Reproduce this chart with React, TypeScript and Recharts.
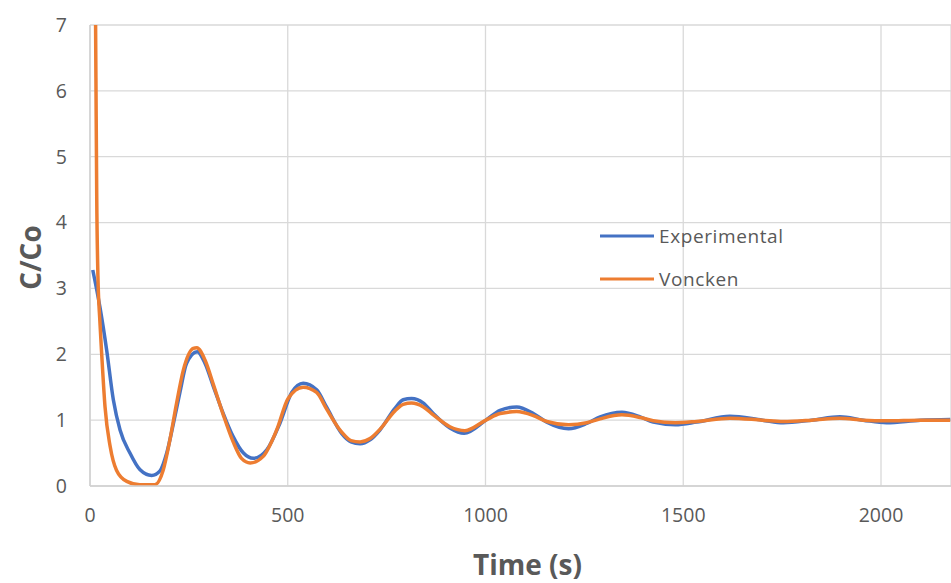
import { CartesianGrid, Legend, Line, LineChart, XAxis, YAxis } from "recharts";

// measured response (time in s, C/Co)
const expTime = [
  7, 25, 42, 59, 76, 101, 126, 156, 177, 194, 211, 228, 244, 271, 291, 312, 337, 362, 388, 413, 447, 480,
  510, 539, 573, 598, 636, 660, 683, 708, 733, 771, 792, 813, 843, 868, 910, 946, 1001, 1037, 1079, 1121,
  1155, 1210, 1256, 1290, 1345, 1391, 1424, 1480, 1534, 1618, 1700, 1753, 1825, 1896, 1955, 2014, 2100, 2175,
];
const expValue = [
  3.28, 2.72, 2.07, 1.31, 0.85, 0.5, 0.25, 0.16, 0.23, 0.5, 0.95, 1.44, 1.86, 2.04, 1.86, 1.51, 1.1, 0.75, 0.5, 0.42, 0.55, 0.95,
  1.42, 1.56, 1.46, 1.2, 0.8, 0.67, 0.64, 0.7, 0.85, 1.18, 1.31, 1.33, 1.26, 1.1, 0.88, 0.8, 1.0, 1.15, 1.2, 1.1,
  0.97, 0.87, 0.95, 1.05, 1.12, 1.05, 0.97, 0.93, 0.97, 1.06, 1.0, 0.96, 1.0, 1.05, 1.0, 0.96, 1.0, 1.01,
];

// Voncken model
const vonTime = [
  12, 15, 17, 20, 25, 30, 38, 51, 67, 93, 126, 164, 185, 202, 219, 236, 261, 270, 291, 312, 337, 362, 383, 405, 438, 472,
  501, 539, 573, 598, 636, 660, 683, 708, 733, 771, 792, 813, 843, 868, 910, 948, 1001, 1037, 1079, 1121,
  1155, 1210, 1256, 1290, 1345, 1391, 1424, 1480, 1534, 1618, 1700, 1753, 1825, 1896, 1955, 2014, 2100, 2175,
];
const vonValue = [
  9.0, 6.2, 4.4, 3.2, 2.5, 1.96, 1.2, 0.6, 0.24, 0.07, 0.02, 0.02, 0.24, 0.7, 1.26, 1.76, 2.09, 2.1, 1.91, 1.54, 1.08, 0.67, 0.42, 0.35, 0.45, 0.85,
  1.33, 1.5, 1.42, 1.17, 0.82, 0.69, 0.67, 0.72, 0.86, 1.14, 1.24, 1.26, 1.2, 1.08, 0.9, 0.84, 1.0, 1.1, 1.13, 1.07,
  0.98, 0.93, 0.96, 1.02, 1.08, 1.04, 0.99, 0.96, 0.98, 1.03, 1.0, 0.98, 1.0, 1.03, 1.0, 0.99, 1.0, 1.0,
];

const xTicks = [0, 500, 1000, 1500, 2000];
const yTicks = [0, 1, 2, 3, 4, 5, 6, 7];

const expRows = expTime.map((t, i) => ({ t, v: expValue[i] }));
const vonRows = vonTime.map((t, i) => ({ t, v: vonValue[i] }));

const FONT = '"Open Sans", "Noto Sans", sans-serif';
const TEXT = "#595959";

const renderLegend = (props: any) => (
  <div style={{ fontFamily: FONT }}>
    {(props.payload || []).map((entry: any) => (
      <div key={entry.value} style={{ display: "flex", alignItems: "center", height: 43 }}>
        <svg width={54} height={6} style={{ marginRight: 5 }}>
          <line x1={0} y1={3} x2={54} y2={3} stroke={entry.color} strokeWidth={3} />
        </svg>
        <span style={{ color: TEXT, fontSize: 19, letterSpacing: 0.6 }}>{entry.value}</span>
      </div>
    ))}
  </div>
);

export default function App() {
  return (
    <div style={{ width: 951, height: 583, position: "relative", overflow: "hidden", background: "#fff" }}>
      <style>{`body { margin: 0; }`}</style>
      <LineChart width={951} height={583} margin={{ top: 25, right: 0, bottom: 0, left: 0 }}>
        <CartesianGrid stroke="#d9d9d9" strokeWidth={1.3} />
        <XAxis
          type="number"
          dataKey="t"
          domain={[0, 2177]}
          ticks={xTicks}
          allowDataOverflow
          height={97}
          tickLine={false}
          tickSize={0}
          tickMargin={22}
          axisLine={{ stroke: "#d0d0d0", strokeWidth: 1.5 }}
          tick={{ fill: TEXT, fontSize: 19.5, fontFamily: FONT }}
          label={{
            content: ({ viewBox }: any) => (
              <text
                x={viewBox.x + viewBox.width / 2 + 7}
                y={viewBox.y + 89}
                textAnchor="middle"
                fill={TEXT}
                fontSize={28}
                fontWeight="bold"
                fontFamily={FONT}
              >
                Time (s)
              </text>
            ),
          }}
        />
        <YAxis
          type="number"
          domain={[0, 7]}
          ticks={yTicks}
          allowDataOverflow
          width={90}
          tickLine={false}
          tickSize={0}
          tickMargin={23}
          axisLine={{ stroke: "#d0d0d0", strokeWidth: 1.5 }}
          tick={{ fill: TEXT, fontSize: 19.5, fontFamily: FONT }}
          label={{
            content: ({ viewBox }: any) => {
              const cx = viewBox.x + 30;
              const cy = viewBox.y + viewBox.height / 2 + 2;
              return (
                <text
                  x={cx}
                  y={cy}
                  transform={`rotate(-90 ${cx} ${cy})`}
                  textAnchor="middle"
                  dominantBaseline="central"
                  fill={TEXT}
                  fontSize={28}
                  fontWeight="bold"
                  fontFamily={FONT}
                >
                  C/Co
                </text>
              );
            },
          }}
        />
        <Legend
          layout="vertical"
          align="center"
          verticalAlign="middle"
          content={renderLegend}
          wrapperStyle={{ left: 600, top: 214, width: 280, height: 86 }}
        />
        <Line
          data={expRows}
          dataKey="v"
          name="Experimental"
          type="monotone"
          stroke="#4472C4"
          strokeWidth={3.5}
          dot={false}
          isAnimationActive={false}
        />
        <Line
          data={vonRows}
          dataKey="v"
          name="Voncken"
          type="monotone"
          stroke="#ED7D31"
          strokeWidth={3.5}
          dot={false}
          isAnimationActive={false}
        />
      </LineChart>
    </div>
  );
}
